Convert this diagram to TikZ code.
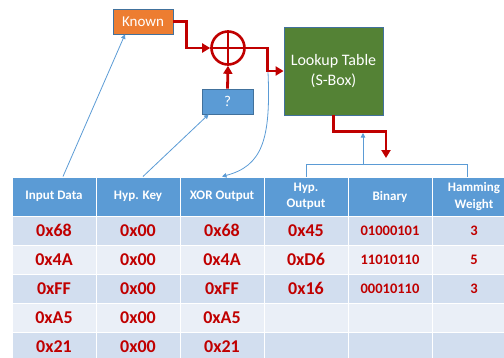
\documentclass[tikz,border=0pt]{standalone}
\usepackage{fontspec}
\setmainfont{Carlito}
\usetikzlibrary{arrows.meta}
\definecolor{SboxRed}{HTML}{C00000}
\definecolor{SboxBlue}{HTML}{5B9BD5}
\definecolor{SboxEdge}{HTML}{41719C}
\definecolor{SboxOrange}{HTML}{ED7D31}
\definecolor{SboxGreen}{HTML}{548235}
\definecolor{SboxBandA}{HTML}{D2DEEF}
\definecolor{SboxBandB}{HTML}{EAEFF7}
\begin{document}
\begin{tikzpicture}[x=1pt,y=-1pt,
  blk/.style n args={3}{rectangle,fill=#1,draw=SboxEdge,line width=0.8pt,minimum width=#2,minimum height=#3,inner sep=0pt,align=center,text=white,font=\fontsize{15}{20}\selectfont},
  cell/.style={rectangle,draw=white,line width=1pt,minimum width=84pt,minimum height=29pt,inner sep=0pt},
  hdr/.style={cell,fill=SboxBlue,minimum height=39pt,text=white,align=center,font=\bfseries\fontsize{13}{16.5}\selectfont},
  hexval/.style={cell,text=SboxRed,font=\bfseries\fontsize{18}{20}\selectfont},
  binval/.style={cell,text=SboxRed,font=\bfseries\fontsize{14.5}{18}\selectfont},
  redflow/.style={SboxRed,line width=2.8pt,-{Triangle[length=8pt,width=9pt]}},
  thinflow/.style={SboxBlue,line width=0.8pt,-{Triangle[length=4.5pt,width=4.5pt]}}]
\useasboundingbox (0,0) rectangle (504,357);
\clip (0,0) rectangle (504,357);
\foreach \c/\t in %
{0/Input Data,1/Hyp. Key,2/XOR Output,3/{Hyp.\\Output},4/Binary,5/{Hamming\\Weight}} {
   \node[hdr] (h\c) at (54+84*\c,196.5) {\t};
}
\foreach \r/\f/\din/\dkey/\dxor/\dout/\dbin/\dhw in %
{1/SboxBandA/0x68/0x00/0x68/0x45/01000101/3,
 2/SboxBandB/0x4A/0x00/0x4A/0xD6/11010110/5,
 3/SboxBandA/0xFF/0x00/0xFF/0x16/00010110/3,
 4/SboxBandB/0xA5/0x00/0xA5/{}/{}/{},
 5/SboxBandA/0x21/0x00/0x21/{}/{}/{}} {
   \node[hexval,fill=\f] (c\r0) at (54,201.5+29*\r) {\din};
   \node[hexval,fill=\f] (c\r1) at (138,201.5+29*\r) {\dkey};
   \node[hexval,fill=\f] (c\r2) at (222,201.5+29*\r) {\dxor};
   \node[hexval,fill=\f] (c\r3) at (306,201.5+29*\r) {\dout};
   \node[binval,fill=\f] (c\r4) at (390,201.5+29*\r) {\dbin};
   \node[binval,fill=\f] (c\r5) at (474,201.5+29*\r) {\dhw};
}
\node[blk={SboxOrange}{60pt}{25pt}] (known) at (143,21.5) {Known};
\node[blk={SboxBlue}{51pt}{25pt}] (guess) at (227.5,101.5) {?};
\node[blk={SboxGreen}{99pt}{88pt},font=\fontsize{16}{20}\selectfont] (lut) at (333.5,71) {Lookup Table\\(S-Box)};
\node[circle,draw=SboxRed,line width=2.6pt,minimum size=33pt,inner sep=0pt] (xor) at (228,48) {};
\draw[SboxRed,line width=2.6pt] (xor.north) -- (xor.south) (xor.west) -- (xor.east);
\draw[redflow] (known.east) -- ++(13,0) |- (xor.west);
\draw[redflow] (guess.north) -- (xor.south);
\draw[redflow] (xor.east) -- ++(22,0) |- (lut.west);
\coordinate (hit) at (386,158);
\draw[redflow] (lut.south) -- ++(0,16) -| (hit);
\coordinate (tap) at (268,72);
\coordinate (brk) at (363,165);
\coordinate (up) at (363,133);
\draw[thinflow] ([xshift=9pt]h0.north) -- ([xshift=-18pt]known.south);
\draw[thinflow] ([xshift=5pt]h1.north) -- ([xshift=7pt]guess.south west);
\draw[thinflow] (tap) .. controls (271,140) and (262,166) .. (h2.north);
\draw[SboxBlue,line width=0.8pt] (h3.north) -- ++(0,-12) -| ([xshift=-7pt]h5.north);
\draw[thinflow] (brk) -- (up);
\end{tikzpicture}
\end{document}
